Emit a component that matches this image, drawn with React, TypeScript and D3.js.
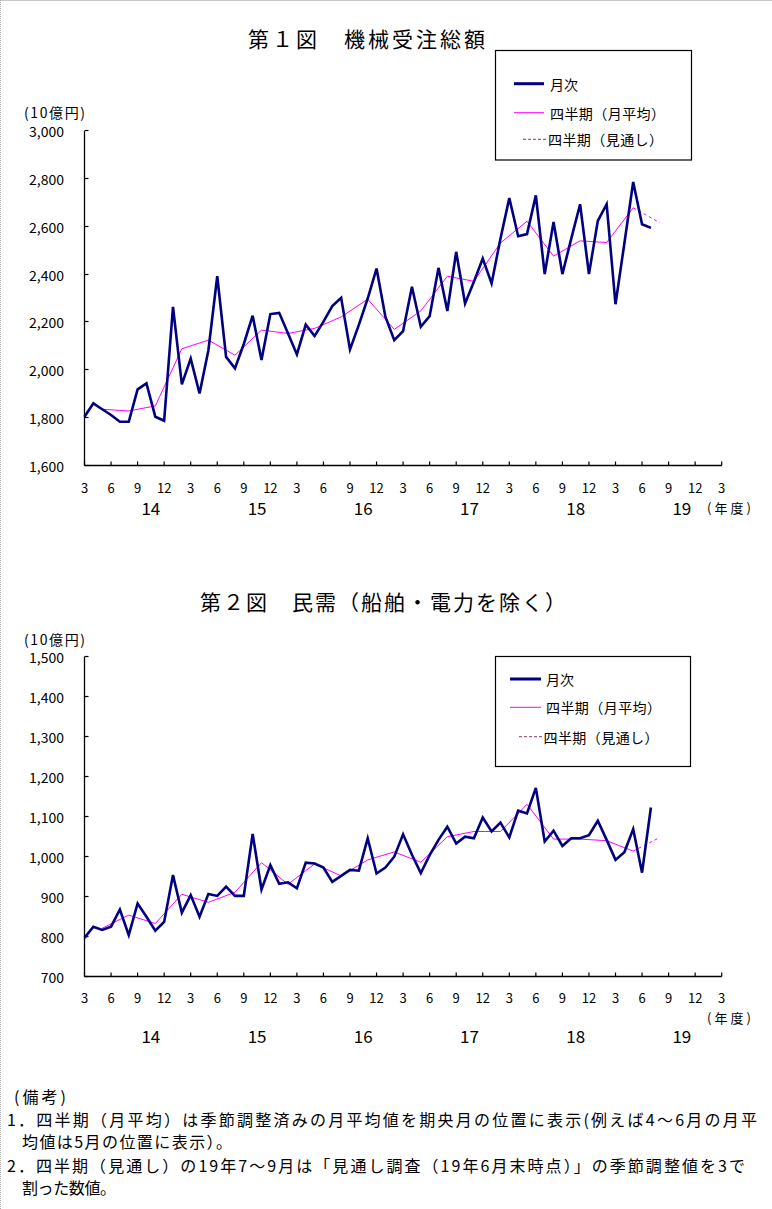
import React from "react";
import * as d3 from "d3";

// ---- data (months counted from March 2014 = 0) ----
const tickLabels = ["3","6","9","12","3","6","9","12","3","6","9","12","3","6","9","12","3","6","9","12","3","6","9","12","3"];
const fiscalYears = ["14","15","16","17","18","19"];

const monthly1 = [1806,1862,1837,1813,1785,1785,1920,1945,1806,1789,2265,1941,2049,1903,2084,2393,2056,2008,2110,2228,2043,2235,2240,2154,2066,2191,2143,2203,2268,2303,2087,2190,2300,2425,2224,2126,2164,2349,2182,2226,2428,2248,2495,2279,2370,2467,2363,2550,2720,2560,2569,2731,2402,2620,2402,2550,2694,2402,2624,2694,2276,2530,2787,2610,2595];
const quarterly1 = [1837,1830,1851,2090,2126,2063,2168,2154,2175,2223,2297,2171,2248,2393,2372,2532,2623,2477,2541,2534,2679];
const forecast1 = [2679,2617];

const monthly2 = [797,825,817,825,868,804,883,850,815,837,954,860,904,850,907,902,925,902,902,1057,918,979,932,936,921,985,983,973,937,952,967,965,1046,958,973,1000,1056,1005,959,1004,1042,1075,1033,1050,1046,1098,1063,1085,1048,1115,1108,1172,1038,1065,1027,1046,1046,1054,1090,1042,992,1011,1069,960,1123];
const quarterly2 = [821,854,833,906,886,911,985,931,982,952,992,1012,986,1050,1063,1063,1131,1044,1044,1040,1014];
const forecast2 = [1014,1048];

const firstQuarterMonth = 2; // May 2014 (mid-month of Apr-Jun)
const forecastMonths = [62, 65]; // May 2019 -> Aug 2019
const totalMonths = 72;

const legendLabels = ["月次", "四半期（月平均）", "四半期（見通し）"];
const notes = [
  "(備考)",
  "1．四半期（月平均）は季節調整済みの月平均値を期央月の位置に表示(例えば4～6月の月平",
  "均値は5月の位置に表示）。",
  "2．四半期（見通し）の19年7～9月は「見通し調査（19年6月末時点）」の季節調整値を3で",
  "割った数値。",
];

const FONT = "'Noto Sans CJK JP', 'Noto Sans', sans-serif";
const NAVY = "#000080";
const MAGENTA = "#ff00ff";

const x = d3.scaleLinear().domain([0, totalMonths]).range([84.5, 721.7]);

type ChartProps = {
  title: string;
  titleX: number;
  titleW: number;
  titleY: number;
  yDomain: [number, number];
  yStep: number;
  yTop: number;
  yBottom: number;
  monthly: number[];
  quarterly: number[];
  forecast: number[];
  box: { x: number; y: number; w: number; h: number };
  rows: number[];
  lineX: [number, number];
  dashX: [number, number];
  textX: number;
  dashTextX: number;
  unitY: number;
  tickDy: number;
  yearDy: number;
  nendoDy: number;
};

function Chart(p: ChartProps) {
  const y = d3.scaleLinear().domain(p.yDomain).range([p.yBottom, p.yTop]);
  const yTicks = d3.range(p.yDomain[0], p.yDomain[1] + 1, p.yStep);
  const fmt = d3.format(",");
  const line = d3
    .line<[number, number]>()
    .x((d) => x(d[0]))
    .y((d) => y(d[1]));
  const mPts = p.monthly.map((v, i) => [i, v] as [number, number]);
  const qPts = p.quarterly.map((v, k) => [firstQuarterMonth + 3 * k, v] as [number, number]);
  const fPts = p.forecast.map((v, k) => [forecastMonths[k], v] as [number, number]);
  const axB = Math.round(p.yBottom) - 0.5;
  return (
    <g fontFamily={FONT} fill="#000">
      <text x={p.titleX} y={p.titleY} fontSize={21} textLength={p.titleW} lengthAdjust="spacing" dominantBaseline="central">
        {p.title}
      </text>
      <text x={24} y={p.unitY} fontSize={14} textLength={61} lengthAdjust="spacing" dominantBaseline="central">
        (10億円)
      </text>
      {/* axes */}
      <line x1={84.5} x2={84.5} y1={p.yTop} y2={axB} stroke="#000" strokeWidth={1.3} />
      <line x1={84.5} x2={x(totalMonths)} y1={axB} y2={axB} stroke="#000" strokeWidth={1.3} />
      {yTicks.map((v) => (
        <g key={v}>
          <line x1={84.5} x2={88.5} y1={Math.round(y(v)) - 0.5} y2={Math.round(y(v)) - 0.5} stroke="#000" strokeWidth={1.2} />
          <text x={64} y={y(v)} fontSize={14} textAnchor="end" dominantBaseline="central">
            {fmt(v)}
          </text>
        </g>
      ))}
      {tickLabels.map((t, k) => (
        <g key={k}>
          <line x1={x(3 * k)} x2={x(3 * k)} y1={axB} y2={axB - 4} stroke="#000" strokeWidth={1.2} />
          <text x={x(3 * k)} y={p.yBottom + p.tickDy} fontSize={13} textAnchor="middle" dominantBaseline="central">
            {t}
          </text>
        </g>
      ))}
      {fiscalYears.map((t, k) => (
        <text key={t} x={x(7.5 + 12 * k)} y={p.yBottom + p.yearDy} fontSize={17} textAnchor="middle" dominantBaseline="central">
          {t}
        </text>
      ))}
      <text x={707} y={p.yBottom + p.nendoDy} fontSize={13} textLength={44} lengthAdjust="spacing" dominantBaseline="central">
        (年度)
      </text>
      {/* series */}
      <path d={line(qPts) || ""} fill="none" stroke={MAGENTA} strokeWidth={1} />
      <path d={line(fPts) || ""} fill="none" stroke={MAGENTA} strokeWidth={1} strokeDasharray="3,3" />
      <path d={line(mPts) || ""} fill="none" stroke={NAVY} strokeWidth={2.6} strokeLinejoin="miter" />
      {/* legend */}
      <rect x={p.box.x} y={p.box.y} width={p.box.w} height={p.box.h} fill="#fff" stroke="#000" strokeWidth={1.2} />
      <line x1={p.lineX[0]} x2={p.lineX[1]} y1={p.rows[0]} y2={p.rows[0]} stroke={NAVY} strokeWidth={3} />
      <line x1={p.lineX[0]} x2={p.lineX[1]} y1={p.rows[1]} y2={p.rows[1]} stroke={MAGENTA} strokeWidth={1} />
      <line x1={p.dashX[0]} x2={p.dashX[1]} y1={p.rows[2]} y2={p.rows[2]} stroke="#993366" strokeWidth={1} strokeDasharray="3,2" />
      <text x={p.textX} y={p.rows[0]} fontSize={14} textLength={28} lengthAdjust="spacing" dominantBaseline="central">
        {legendLabels[0]}
      </text>
      <text x={p.textX} y={p.rows[1]} fontSize={14} textLength={115} lengthAdjust="spacing" dominantBaseline="central">
        {legendLabels[1]}
      </text>
      <text x={p.dashTextX} y={p.rows[2]} fontSize={14} textLength={115} lengthAdjust="spacing" dominantBaseline="central">
        {legendLabels[2]}
      </text>
    </g>
  );
}

export default function App() {
  const noteLayout = [
    { x: 14, y: 1096, w: 52 },
    { x: 7, y: 1119, w: 750 },
    { x: 22, y: 1141, w: 210 },
    { x: 7, y: 1165, w: 738 },
    { x: 22, y: 1187, w: 94 },
  ];
  return (
    <svg
      width={772}
      height={1209}
      viewBox="0 0 772 1209"
      style={{ position: "absolute", left: 0, top: 0, background: "#fff" }}
    >
      <rect x={0} y={0} width={772} height={1209} fill="#fff" />
      <line x1={0} x2={772} y1={0.5} y2={0.5} stroke="#c8c8c8" strokeWidth={1} />
      <line x1={0.5} x2={0.5} y1={0} y2={1209} stroke="#a8a8a8" strokeWidth={1} strokeDasharray="1,1" />
      <Chart
        title="第１図　機械受注総額"
        titleX={248}
        titleW={237}
        titleY={38}
        yDomain={[1600, 3000]}
        yStep={200}
        yTop={131}
        yBottom={466}
        monthly={monthly1}
        quarterly={quarterly1}
        forecast={forecast1}
        box={{ x: 495.5, y: 50.5, w: 196, h: 109.5 }}
        rows={[83.7, 112.7, 139.3]}
        lineX={[514, 544]}
        dashX={[523, 547]}
        textX={550}
        dashTextX={548}
        unitY={112}
        tickDy={21.5}
        yearDy={41}
        nendoDy={41.5}
      />
      <Chart
        title="第２図　民需（船舶・電力を除く）"
        titleX={200}
        titleW={366}
        titleY={601}
        yDomain={[700, 1500]}
        yStep={100}
        yTop={656.7}
        yBottom={976.7}
        monthly={monthly2}
        quarterly={quarterly2}
        forecast={forecast2}
        box={{ x: 495.5, y: 656.5, w: 195, h: 110 }}
        rows={[679, 707.3, 736.7]}
        lineX={[510, 541]}
        dashX={[519, 543]}
        textX={546}
        dashTextX={543.5}
        unitY={639}
        tickDy={21}
        yearDy={59}
        nendoDy={41}
      />
      <g fontFamily={FONT} fontSize={16} fill="#000">
        {notes.map((t, i) => (
          <text key={i} x={noteLayout[i].x} y={noteLayout[i].y} textLength={noteLayout[i].w} lengthAdjust="spacing" dominantBaseline="central">
            {t}
          </text>
        ))}
      </g>
    </svg>
  );
}
